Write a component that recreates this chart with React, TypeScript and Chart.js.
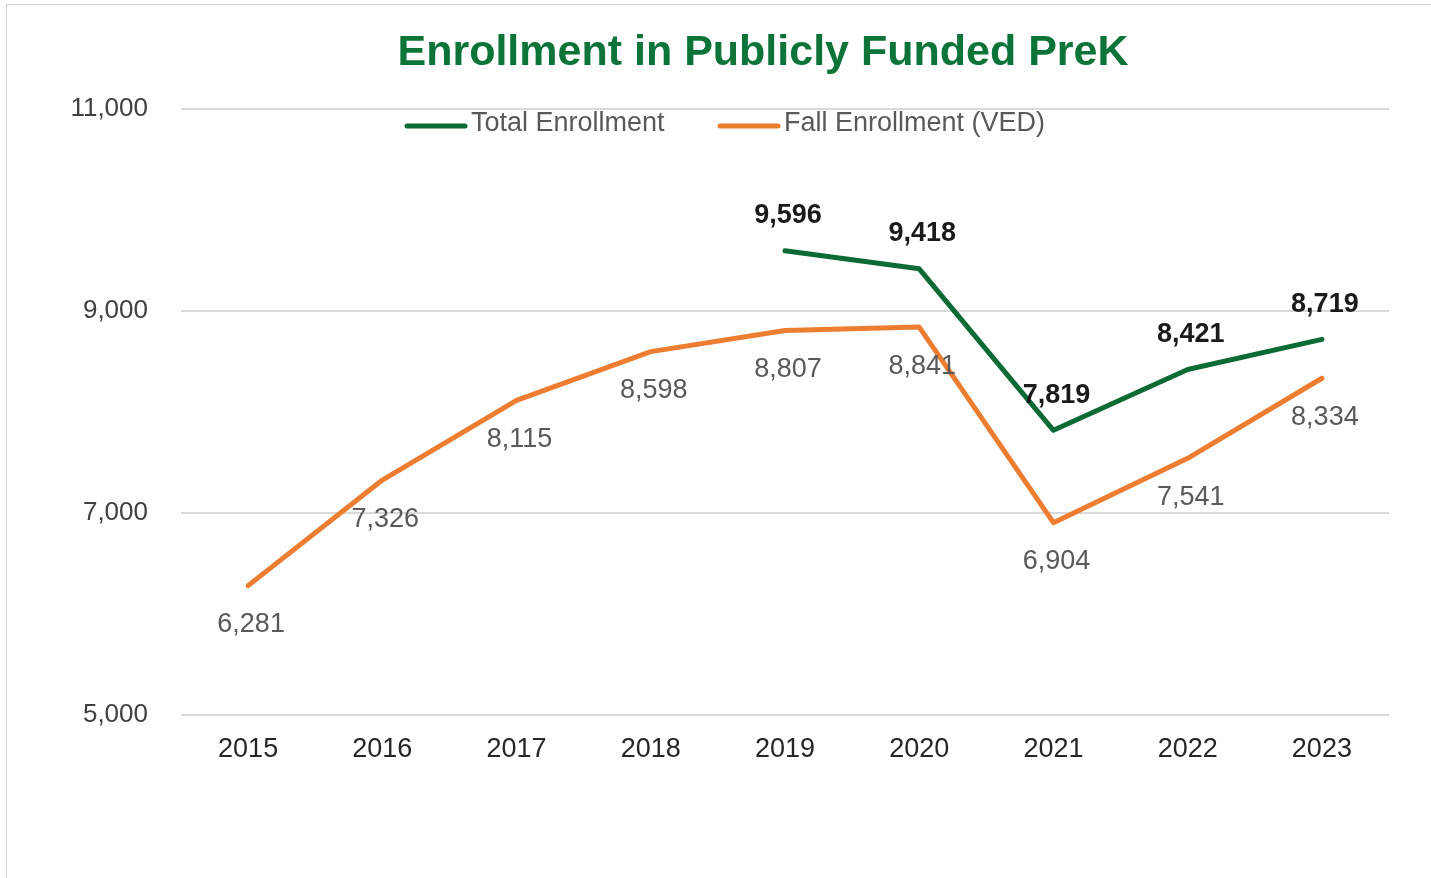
import React, { useEffect, useRef } from "react";
import { Chart, registerables } from "chart.js";

Chart.register(...registerables);

const years = ["2015", "2016", "2017", "2018", "2019", "2020", "2021", "2022", "2023"];
const totalEnrollment = [null, null, null, null, 9596, 9418, 7819, 8421, 8719];
const fallEnrollment = [6281, 7326, 8115, 8598, 8807, 8841, 6904, 7541, 8334];
const yTicks = [5000, 7000, 9000, 11000];

const GREEN = "#0c6b35";
const TITLE_GREEN = "#0d7439";
const ORANGE = "#ed7d31";
const FONT = "'Liberation Sans', Arial, sans-serif";

const fmt = (v: number) => v.toLocaleString("en-US");

const overlayPlugin = {
  id: "overlay",
  afterDatasetsDraw(chart: any) {
    const ctx = chart.ctx;
    ctx.save();
    // data labels
    chart.data.datasets.forEach((ds: any, di: number) => {
      const meta = chart.getDatasetMeta(di);
      meta.data.forEach((pt: any, i: number) => {
        const v = ds.data[i];
        if (v == null) return;
        ctx.textAlign = "center";
        ctx.textBaseline = "middle";
        if (di === 0) {
          ctx.font = `bold 27px ${FONT}`;
          ctx.fillStyle = "#1a1a1a";
          ctx.fillText(fmt(v), pt.x + 3, pt.y - 35);
        } else {
          ctx.font = `27px ${FONT}`;
          ctx.fillStyle = "#595959";
          ctx.fillText(fmt(v), pt.x + 3, pt.y + 39);
        }
      });
    });
    // title
    ctx.font = `bold 43px ${FONT}`;
    ctx.fillStyle = TITLE_GREEN;
    ctx.textAlign = "center";
    ctx.textBaseline = "middle";
    ctx.fillText("Enrollment in Publicly Funded PreK", 756, 48);
    // legend
    const items = [
      { label: "Total Enrollment", color: GREEN, x: 398 },
      { label: "Fall Enrollment (VED)", color: ORANGE, x: 711 },
    ];
    ctx.font = `27px ${FONT}`;
    ctx.textAlign = "left";
    items.forEach((it) => {
      ctx.strokeStyle = it.color;
      ctx.lineWidth = 5;
      ctx.lineCap = "round";
      ctx.beginPath();
      ctx.moveTo(it.x + 2, 121);
      ctx.lineTo(it.x + 60, 121);
      ctx.stroke();
      ctx.fillStyle = "#595959";
      ctx.fillText(it.label, it.x + 66, 119);
    });
    ctx.restore();
  },
};

export default function App() {
  const ref = useRef<HTMLCanvasElement>(null);
  useEffect(() => {
    if (!ref.current) return;
    const chart = new Chart(ref.current, {
      type: "line",
      data: {
        labels: years,
        datasets: [
          {
            label: "Total Enrollment",
            data: totalEnrollment,
            borderColor: GREEN,
            backgroundColor: GREEN,
            borderWidth: 5,
            pointRadius: 0,
            borderCapStyle: "round",
            borderJoinStyle: "round",
            spanGaps: false,
          },
          {
            label: "Fall Enrollment (VED)",
            data: fallEnrollment,
            borderColor: ORANGE,
            backgroundColor: ORANGE,
            borderWidth: 5,
            pointRadius: 0,
            borderCapStyle: "round",
            borderJoinStyle: "round",
          },
        ],
      },
      options: {
        animation: false,
        responsive: true,
        maintainAspectRatio: false,
        layout: { padding: { left: 0, top: 104, right: 56, bottom: 0 } },
        plugins: {
          legend: { display: false },
          title: { display: false },
          tooltip: { enabled: false },
        },
        scales: {
          x: {
            offset: true,
            grid: { display: false, drawTicks: false },
            border: { display: false },
            ticks: {
              padding: 18,
              color: "#262626",
              font: { family: FONT, size: 27 },
            },
            afterFit: (s: any) => {
              s.height = 188;
            },
          },
          y: {
            min: 5000,
            max: 11000,
            afterBuildTicks: (s: any) => {
              s.ticks = yTicks.map((v) => ({ value: v }));
            },
            grid: { color: "#d9d9d9", lineWidth: 2, drawTicks: false },
            border: { display: false },
            ticks: {
              padding: 33,
              color: "#404040",
              font: { family: FONT, size: 26 },
              callback: (v: any) => fmt(Number(v)),
            },
            afterFit: (s: any) => {
              s.width = 174;
            },
          },
        },
      },
      plugins: [overlayPlugin],
    } as any);
    return () => chart.destroy();
  }, []);

  return (
    <div
      style={{
        position: "fixed",
        left: 6,
        top: 4,
        width: 1440,
        height: 900,
        borderLeft: "1px solid #cfcfcf",
        borderTop: "1px solid #cfcfcf",
        boxSizing: "border-box",
        background: "#fff",
      }}
    >
      <div style={{ position: "absolute", left: 0, top: 0, width: 1438, height: 898 }}>
        <canvas ref={ref} />
      </div>
    </div>
  );
}
